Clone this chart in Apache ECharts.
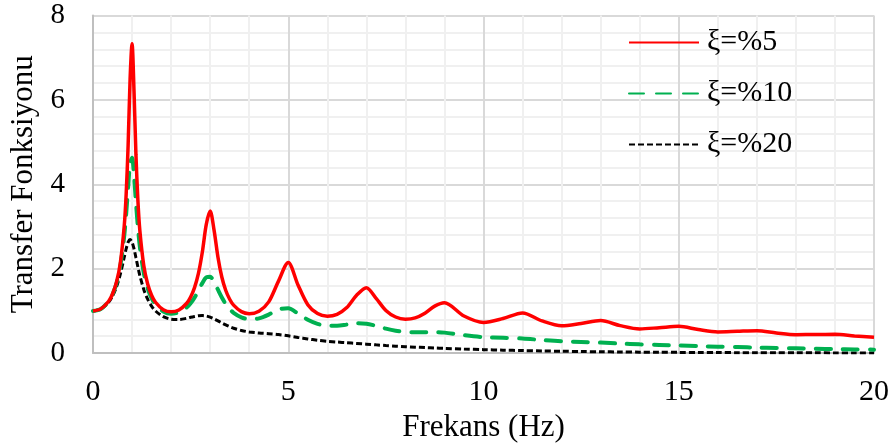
<!DOCTYPE html>
<html>
<head>
<meta charset="utf-8">
<script src="https://cdn.jsdelivr.net/npm/echarts@6/dist/echarts.min.js"></script>
<style>
html,body{margin:0;padding:0;background:#fff;overflow:hidden;}
#chart{width:893px;height:448px;}
</style>
</head>
<body>
<div id="chart"></div>
<script>
const freq = [0,0.2,0.4,0.5,0.6,0.7,0.8,0.85,0.9,0.95,1,1.05,1.1,1.15,1.2,1.3,1.4,1.5,1.6,1.8,
  2,2.2,2.4,2.5,2.6,2.7,2.8,2.9,3,3.1,3.2,3.3,3.4,3.5,3.6,3.8,
  4,4.25,4.5,4.75,5,5.25,5.5,5.75,6,6.25,6.5,6.75,7,7.25,7.5,7.75,8,8.25,8.5,8.75,
  9,9.5,10,10.5,11,11.5,12,12.5,13,13.5,14,14.5,15,15.5,16,16.5,17,17.5,18,18.5,19,19.5,20];

const xi5 = [0.998,1.048,1.229,1.401,1.675,2.138,3.015,3.780,4.938,6.494,7.332,6.214,4.696,3.616,2.903,2.077,1.636,1.372,1.205,1.029,
  0.977,1.021,1.182,1.329,1.551,1.888,2.395,3.043,3.365,2.914,2.272,1.797,1.483,1.276,1.136,0.982,
  0.935,0.993,1.214,1.706,2.149,1.615,1.148,0.938,0.875,0.919,1.079,1.370,1.551,1.299,1.011,0.856,0.804,0.834,0.944,1.113,
  1.193,0.880,0.728,0.819,0.953,0.762,0.648,0.702,0.770,0.651,0.573,0.602,0.635,0.558,0.501,0.516,0.530,0.477,0.437,0.441,0.445,0.408,0.378];

const xi10 = [0.998,1.047,1.223,1.389,1.647,2.066,2.780,3.308,3.937,4.494,4.627,4.207,3.571,2.985,2.522,1.903,1.535,1.304,1.153,0.988,
  0.935,0.964,1.081,1.181,1.315,1.480,1.658,1.792,1.807,1.687,1.502,1.318,1.164,1.045,0.956,0.846,
  0.804,0.823,0.912,1.033,1.062,0.938,0.790,0.694,0.648,0.648,0.676,0.706,0.698,0.645,0.580,0.529,0.501,0.493,0.496,0.498,
  0.485,0.424,0.378,0.363,0.346,0.310,0.281,0.265,0.249,0.227,0.207,0.194,0.181,0.166,0.152,0.142,0.131,0.121,0.112,0.103,0.096,0.088,0.082];

const xi20 = [0.998,1.043,1.205,1.352,1.567,1.873,2.272,2.473,2.629,2.689,2.631,2.471,2.260,2.040,1.837,1.509,1.277,1.114,0.999,0.863,
  0.804,0.796,0.825,0.849,0.869,0.885,0.890,0.879,0.852,0.811,0.763,0.714,0.668,0.626,0.590,0.536,
  0.501,0.476,0.459,0.439,0.409,0.372,0.336,0.305,0.281,0.262,0.245,0.229,0.212,0.195,0.179,0.165,0.152,0.141,0.131,0.121,
  0.112,0.096,0.082,0.070,0.060,0.051,0.044,0.037,0.032,0.027,0.023,0.020,0.017,0.015,0.012,0.011,0.009,0.008,0.007,0.006,0.005,0.004,0.004];

const seriesNames = ['ξ=%5','ξ=%10','ξ=%20'];
const xTicks = [0,5,10,15,20];
const yTicks = [0,2,4,6,8];

const pairs = arr => freq.map((f,i)=>[f,arr[i]]);
const FONT = 'Liberation Serif';

const chart = echarts.init(document.getElementById('chart'), null, {renderer:'canvas', width:893, height:448});
chart.setOption({
  animation:false,
  backgroundColor:'#fff',
  grid:{left:91,top:15.5,width:783,height:341.5,containLabel:false},
  legend:{
    orient:'vertical', left:628, top:27, padding:0,
    itemWidth:70, itemHeight:14, itemGap:20,
    itemStyle:{opacity:0},
    textStyle:{fontFamily:FONT,fontSize:30,color:'#000',lineHeight:31,padding:[0,0,0,3]},
    data:seriesNames
  },
  xAxis:{
    type:'value', min:xTicks[0], max:xTicks[xTicks.length-1], interval:5,
    name:'Frekans (Hz)', nameLocation:'middle', nameGap:56,
    nameTextStyle:{fontFamily:FONT,fontSize:31,color:'#000'},
    axisLine:{show:true,lineStyle:{color:'#bfbfbf',width:2}},
    axisTick:{show:false},
    axisLabel:{fontFamily:FONT,fontSize:30,color:'#000',margin:24},
    splitLine:{show:true,lineStyle:{color:'#d9d9d9',width:2}},
    minorTick:{show:false,splitNumber:5},
    minorSplitLine:{show:true,lineStyle:{color:'#f0f0f0',width:2}}
  },
  yAxis:{
    type:'value', min:yTicks[0], max:yTicks[yTicks.length-1], interval:2,
    name:'Transfer Fonksiyonu', nameLocation:'middle', nameGap:54,
    nameTextStyle:{fontFamily:FONT,fontSize:31,color:'#000'},
    axisLine:{show:true,lineStyle:{color:'#bfbfbf',width:2}},
    axisTick:{show:false},
    axisLabel:{fontFamily:FONT,fontSize:29,color:'#000',margin:28},
    splitLine:{show:true,lineStyle:{color:'#d9d9d9',width:2}},
    minorTick:{show:false,splitNumber:5},
    minorSplitLine:{show:true,lineStyle:{color:'#f0f0f0',width:2}}
  },
  series:[
    {name:seriesNames[0],type:'line',data:pairs(xi5),showSymbol:false,symbol:'none',smooth:0.3,
      lineStyle:{color:'#ff0000',width:3.5},itemStyle:{color:'#ff0000'},z:4},
    {name:seriesNames[1],type:'line',data:pairs(xi10),showSymbol:false,symbol:'none',smooth:0.3,
      lineStyle:{color:'#00b050',width:4,type:[15,12],cap:'round'},itemStyle:{color:'#00b050'},z:3},
    {name:seriesNames[2],type:'line',data:pairs(xi20),showSymbol:false,symbol:'none',smooth:0.3,
      lineStyle:{color:'#000000',width:3,type:[6,3],cap:'butt'},itemStyle:{color:'#000'},z:2}
  ]
});
</script>
</body>
</html>
